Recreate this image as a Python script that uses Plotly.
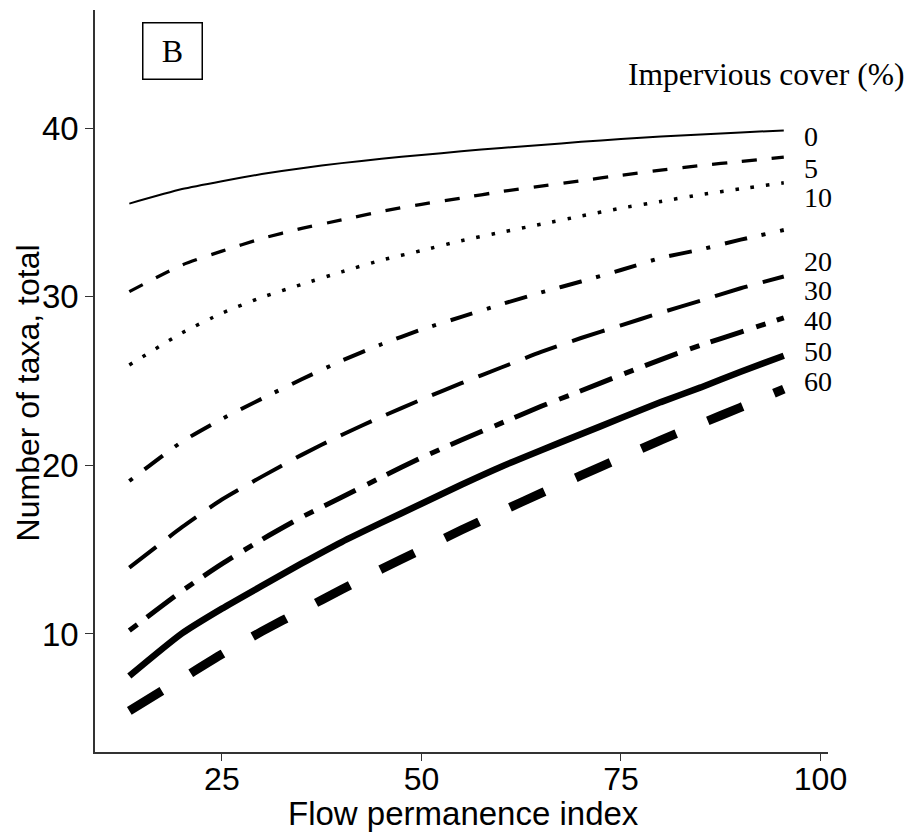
import plotly.graph_objects as go

# ---- data ----
flow_index = [13.4, 20, 25, 30, 35, 40, 45, 50, 55, 60, 65, 70, 75, 80, 85, 90, 95.4]

taxa_ic0 = [35.52, 36.38, 36.85, 37.27, 37.62, 37.92, 38.18, 38.40, 38.62, 38.82, 39.00, 39.18, 39.35, 39.50, 39.62, 39.74, 39.86]
taxa_ic5 = [30.30, 31.88, 32.70, 33.45, 34.05, 34.55, 35.06, 35.48, 35.85, 36.23, 36.56, 36.88, 37.20, 37.50, 37.78, 38.02, 38.28]
taxa_ic10 = [25.95, 27.85, 29.02, 29.96, 30.73, 31.47, 32.17, 32.73, 33.32, 33.82, 34.30, 34.78, 35.25, 35.65, 36.05, 36.40, 36.75]
taxa_ic20 = [19.07, 21.40, 22.75, 23.95, 25.10, 26.20, 27.18, 28.05, 28.80, 29.55, 30.25, 30.90, 31.58, 32.30, 32.80, 33.38, 33.95]
taxa_ic30 = [13.93, 16.33, 17.97, 19.33, 20.62, 21.80, 22.88, 23.90, 24.87, 25.80, 26.73, 27.55, 28.30, 29.05, 29.77, 30.50, 31.20]
taxa_ic40 = [10.20, 12.55, 14.15, 15.60, 16.93, 18.10, 19.30, 20.45, 21.50, 22.50, 23.50, 24.42, 25.36, 26.27, 27.13, 27.90, 28.75]
taxa_ic50 = [7.50, 10.03, 11.50, 12.85, 14.18, 15.45, 16.60, 17.72, 18.85, 19.92, 20.90, 21.85, 22.80, 23.75, 24.62, 25.55, 26.50]
taxa_ic60 = [5.44, 7.35, 8.80, 10.15, 11.40, 12.63, 13.85, 15.00, 16.16, 17.27, 18.35, 19.40, 20.45, 21.50, 22.47, 23.44, 24.52]

cover_labels = ["0", "5", "10", "20", "30", "40", "50", "60"]
series = [taxa_ic0, taxa_ic5, taxa_ic10, taxa_ic20, taxa_ic30, taxa_ic40, taxa_ic50, taxa_ic60]

x_ticks = [25, 50, 75, 100]
y_ticks = [10, 20, 30, 40]

# ---- styles ----
widths = [2, 3.3, 3.5, 4, 4, 5, 6.5, 9]
dashes = ["solid", "15px,15px", "3.5px,12px", "4px,15px,23px,15px",
          "34px,16px", "10px,12px,35px,13px", "solid", "38px,34px"]
label_y = [39.47, 37.6, 35.9, 32.06, 30.38, 28.6, 26.73, 24.95]

SANS = "Liberation Sans, Arial, sans-serif"
SERIF = "Liberation Serif, Times New Roman, serif"

fig = go.Figure()
for name, ys, w, d in zip(cover_labels, series, widths, dashes):
    fig.add_trace(go.Scatter(x=flow_index, y=ys, mode="lines", name=name,
                             line=dict(color="black", width=w, dash=d, shape="spline",
                                       smoothing=0.6),
                             showlegend=False))

annotations = []
for name, ly in zip(cover_labels, label_y):
    annotations.append(dict(text=name, xref="paper", yref="y", x=0.9646, y=ly,
                            xanchor="left", yanchor="middle", showarrow=False,
                            font=dict(family=SERIF, size=28, color="black")))
annotations.append(dict(text="Impervious cover (%)", xref="paper", yref="paper",
                        x=1.106, y=0.9124, xanchor="right", yanchor="middle",
                        showarrow=False, font=dict(family=SERIF, size=31.5, color="black")))
annotations.append(dict(text="B", xref="paper", yref="paper", x=0.1057, y=0.9448,
                        xanchor="center", yanchor="middle", showarrow=False,
                        width=58, height=55, bordercolor="black", borderwidth=1.5,
                        borderpad=0, bgcolor="white",
                        font=dict(family=SERIF, size=32, color="black")))
annotations.append(dict(text="Flow permanence index", xref="paper", yref="paper",
                        x=0.5024, y=-0.083, xanchor="center", yanchor="middle",
                        showarrow=False, font=dict(family=SANS, size=33, color="black")))
annotations.append(dict(text="Number of taxa, total", xref="paper", yref="paper",
                        x=-0.092, y=0.484, xanchor="center", yanchor="middle",
                        textangle=-90, showarrow=False,
                        font=dict(family=SANS, size=32, color="black")))

fig.update_layout(
    width=910, height=832,
    margin=dict(l=94.5, r=82, t=10, b=79.7, pad=0),
    plot_bgcolor="white", paper_bgcolor="white",
    annotations=annotations,
    xaxis=dict(range=[9.1, 100.94], tickvals=x_ticks, ticks="outside", ticklen=7,
               tickwidth=1, tickcolor="#333", showline=True, linecolor="#333",
               linewidth=1.5, showgrid=False, zeroline=False, ticklabelstandoff=-9,
               tickfont=dict(family=SANS, size=32, color="black")),
    yaxis=dict(range=[3.0, 47.0], tickvals=y_ticks, ticks="outside", ticklen=8,
               tickwidth=1, tickcolor="#333", showline=True, linecolor="#333",
               linewidth=1.5, showgrid=False, zeroline=False,
               tickfont=dict(family=SANS, size=33, color="black")),
)

fig.write_html("out.html")
